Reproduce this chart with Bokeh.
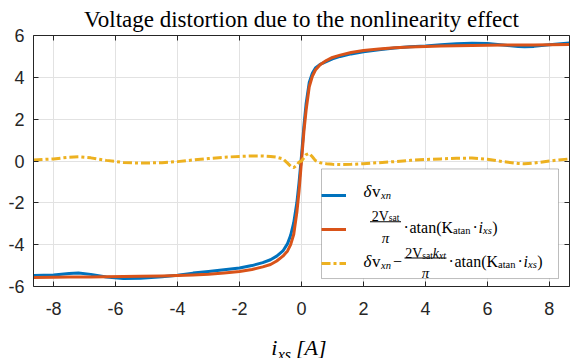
from bokeh.plotting import figure
from bokeh.layouts import column
from bokeh.models import (Range1d, LinearAxis, FixedTicker, CustomJSTickFormatter, Label,
                          Legend, LegendItem, BoxAnnotation, ColumnDataSource)
from bokeh.embed import file_html
from bokeh.resources import INLINE

# ---------------- data ----------------
i_xs = [-8.65, -8, -7.5, -7.2, -6.8, -6.3, -5.75, -5.2, -4.5, -4, -3.5, -3, -2.5, -2, -1.6,
        -1.25, -1, -0.8, -0.6, -0.45, -0.35, -0.25, -0.15, -0.08, 0, 0.08, 0.15, 0.25, 0.35,
        0.45, 0.6, 0.8, 1, 1.25, 1.6, 2, 2.5, 3, 3.5, 4, 4.5, 5, 5.5, 6, 6.5, 7, 7.2, 7.5, 8, 8.65]

dv_xn = [-5.48, -5.45, -5.38, -5.35, -5.42, -5.55, -5.62, -5.60, -5.53, -5.46, -5.36, -5.28,
         -5.20, -5.12, -5.00, -4.86, -4.72, -4.55, -4.30, -3.95, -3.55, -2.95, -2.00, -1.05,
         0.25, 1.70, 2.75, 3.75, 4.20, 4.45, 4.62, 4.75, 4.88, 5.00, 5.12, 5.22, 5.32, 5.40,
         5.46, 5.50, 5.56, 5.61, 5.63, 5.62, 5.55, 5.47, 5.46, 5.48, 5.56, 5.64]

atan_fit = [-5.57, -5.56, -5.55, -5.55, -5.54, -5.53, -5.52, -5.51, -5.50, -5.48, -5.45, -5.41,
            -5.35, -5.28, -5.19, -5.06, -4.95, -4.78, -4.55, -4.30, -4.00, -3.50, -2.45, -1.45,
            0.0, 1.45, 2.45, 3.55, 4.05, 4.35, 4.60, 4.80, 4.95, 5.06, 5.19, 5.28, 5.35, 5.41,
            5.45, 5.48, 5.50, 5.51, 5.52, 5.53, 5.54, 5.55, 5.55, 5.55, 5.56, 5.57]

difference = [0.05, 0.10, 0.18, 0.20, 0.15, 0.03, -0.07, -0.10, -0.08, -0.03, 0.05, 0.12,
              0.18, 0.22, 0.24, 0.24, 0.22, 0.18, 0.10, -0.10, -0.25, -0.32, -0.20, -0.05,
              0.00, 0.15, 0.30, 0.36, 0.20, 0.02, -0.08, -0.13, -0.16, -0.17, -0.16, -0.13,
              -0.08, -0.03, 0.03, 0.07, 0.10, 0.13, 0.14, 0.08, -0.03, -0.12, -0.13, -0.10,
              0.00, 0.10]

x_ticks = [-8, -6, -4, -2, 0, 2, 4, 6, 8]
y_ticks = [-6, -4, -2, 0, 2, 4, 6]

title_text = "Voltage distortion due to the nonlinearity effect"

# ---------------- layout ----------------
W, H = 584, 358
BOT_Y = 326         # x-label strip starts here
FL, FR, FT, FB = 33, 569, 34, 286
x_lo, x_hi = -8.65, 8.65
y_lo, y_hi = -6.0, 6.0
AX = "#262626"


def X(px):
    return x_lo + (px - FL) * (x_hi - x_lo) / (FR - FL)


def Y(py):
    return y_hi - (py - FT) * (y_hi - y_lo) / (FB - FT)


bottom = figure(width=W, height=H - BOT_Y, x_range=Range1d(0, W), y_range=Range1d(H, BOT_Y),
                output_backend="svg", toolbar_location=None, title=None,
                x_axis_type=None, y_axis_type=None, min_border=0)
bottom.grid.visible = False
bottom.outline_line_color = None
bottom.border_fill_color = "white"
bottom.background_fill_color = "white"

p = figure(width=W, height=BOT_Y, x_range=Range1d(x_lo, x_hi),
           y_range=Range1d(y_lo, y_hi), output_backend="svg", toolbar_location=None,
           title=title_text, min_border_left=FL, min_border_right=W - FR,
           min_border_top=FT, min_border_bottom=BOT_Y - FB)
p.outline_line_color = None
p.background_fill_color = "white"
p.border_fill_color = "white"
p.title.align = "center"
p.title.text_font = "Liberation Serif"
p.title.text_font_size = "23px"
p.title.text_font_style = "normal"
p.title.text_color = "black"
p.title.standoff = 8
p.title.offset = 0

plain = CustomJSTickFormatter(code="return String(tick)")
for ax in (p.xaxis[0], p.yaxis[0]):
    ax.major_tick_in = 5
    ax.major_tick_out = 0
    ax.minor_tick_line_color = None
    ax.axis_line_color = AX
    ax.major_tick_line_color = AX
    ax.major_label_text_font = "Liberation Sans"
    ax.major_label_text_font_size = "18px"
    ax.major_label_text_color = AX
    ax.formatter = plain
p.xaxis[0].ticker = FixedTicker(ticks=x_ticks)
p.yaxis[0].ticker = FixedTicker(ticks=y_ticks)
p.xaxis[0].major_label_standoff = 15
p.yaxis[0].major_label_standoff = 9

for loc, ticks in (("above", x_ticks), ("right", y_ticks)):
    a = LinearAxis(ticker=FixedTicker(ticks=ticks),
                   formatter=CustomJSTickFormatter(code="return ''"),
                   major_tick_in=5, major_tick_out=0, minor_tick_line_color=None,
                   axis_line_color=AX, major_tick_line_color=AX, major_label_standoff=0,
                   major_label_text_font_size="0px")
    p.add_layout(a, loc)

p.xgrid.ticker = FixedTicker(ticks=x_ticks)
p.ygrid.ticker = FixedTicker(ticks=y_ticks)
p.grid.grid_line_color = "#e2e2e2"
p.grid.grid_line_width = 1

# legend frame (over the grid, under the curves)
p.add_layout(BoxAnnotation(left=X(321), right=X(558), top=Y(168), bottom=Y(278),
                           fill_color="white", fill_alpha=1.0, line_color=AX,
                           line_width=1, level="underlay"))

src = ColumnDataSource(dict(x=i_xs, dv=dv_xn, at=atan_fit, df=difference))
r1 = p.line("x", "dv", source=src, line_color="#0072BD", line_width=3, line_join="round")
r2 = p.line("x", "at", source=src, line_color="#D95319", line_width=3, line_join="round")
r3 = p.line("x", "df", source=src, line_color="#EDB120", line_width=3, line_dash="9 3 3 3")

legend = Legend(items=[LegendItem(label=" ", renderers=[r1]),
                       LegendItem(label=" ", renderers=[r2]),
                       LegendItem(label=" ", renderers=[r3])],
                location=(321 - FL, FB - 278), glyph_width=25, glyph_height=30,
                label_height=30, label_width=195, label_standoff=5, spacing=4, padding=6,
                margin=0, border_line_color=None, background_fill_alpha=0.0,
                label_text_font_size="8px")
p.add_layout(legend)

# ---------------- texts ----------------
REG = {' ': 250, '\u00b7': 250, 'a': 444, 't': 278, 'n': 500, '(': 333, ')': 333, 'K': 722,
       '2': 500, 'V': 722, 's': 389, 'v': 500, '\u2212': 564, '\u03b4': 494, '\u03c0': 549,
       'i': 278, 'x': 500, 'k': 500}
ITA = {'i': 278, 'x': 444, 's': 389, 'n': 500, 't': 278, 'k': 444, '\u03b4': 500,
       '\u03c0': 549}


def width(s, size, italic):
    tab = ITA if italic else REG
    return sum(tab.get(c, REG.get(c, 500)) for c in s) * size / 1000.0


def put(fig, x, y, s, size, italic=False, align="left", font="Liberation Serif"):
    fig.add_layout(Label(x=x, y=y, text=s, text_font=font, text_font_size=f"{size}px",
                         text_font_style="italic" if italic else "normal",
                         text_align=align, text_baseline="alphabetic", text_color="black"))


def lput(px, py, s, size, italic=False, align="left"):
    put(p, X(px), Y(py), s, size, italic, align)


def flow(px, parts):
    for s, size, italic, py, gap in parts:
        lput(px, py, s, size, italic)
        px += width(s, size, italic) + gap
    return px


def bar(x0, x1, py):
    p.add_layout(BoxAnnotation(left=X(x0), right=X(x1), top=Y(py - 0.5), bottom=Y(py + 0.5),
                               fill_color="black", fill_alpha=1.0, line_color=None))


def frac(cx, num_parts, num_base, bar_y, den_base, x0, x1, size):
    wn = sum(width(s, sz, it) + g for s, sz, it, _, g in num_parts)
    flow(cx - wn / 2, [(s, sz, it, num_base + dy, g) for s, sz, it, dy, g in num_parts])
    bar(x0, x1, bar_y)
    lput(cx, den_base, "\u03c0", size + 1, True, align="center")


def tail(px, base, M, S):
    sb = base + 3
    flow(px, [("\u00b7", M, False, base, 2), ("atan(K", M, False, base, 0),
              ("atan", S, False, sb, 2), ("\u00b7", M, False, base, 2),
              ("i", M, True, base, 0), ("xs", S, True, sb, 0.5), (")", M, False, base, 0)])


M, S, F, FS = 16, 10.5, 14, 9.5

# x-axis label
put(bottom, 259, 347, "i", 22, True)
put(bottom, 266, 354, "xs", 16, True)
put(bottom, 286, 347, "[A]", 22, True)

# legend row 1
flow(363, [("\u03b4", M + 1, True, 191, 0), ("v", M + 1, False, 191, 0.5),
           ("xn", S, True, 195, 0)])

# legend row 2
frac(385, [("2V", F, False, 0, 0), ("sat", FS, False, 2, 0)], 215.5, 221, 237,
     369.5, 400.5, F)
tail(403, 226.5, M, S)

# legend row 3
flow(363, [("\u03b4", M + 1, True, 261, 0), ("v", M + 1, False, 261, 0.5),
           ("xn", S, True, 265, 2), ("\u2212", M, False, 261, 0)])
frac(425, [("2V", F, False, 0, 0), ("sat", FS, False, 2, 0), ("k", F, True, 0, 0),
           ("xt", FS, True, 2, 0)], 253, 257.5, 272.5, 404, 446, F)
tail(448, 261, M, S)

layout = column(p, bottom, spacing=0)
open("out.html", "w").write(file_html(layout, INLINE))
